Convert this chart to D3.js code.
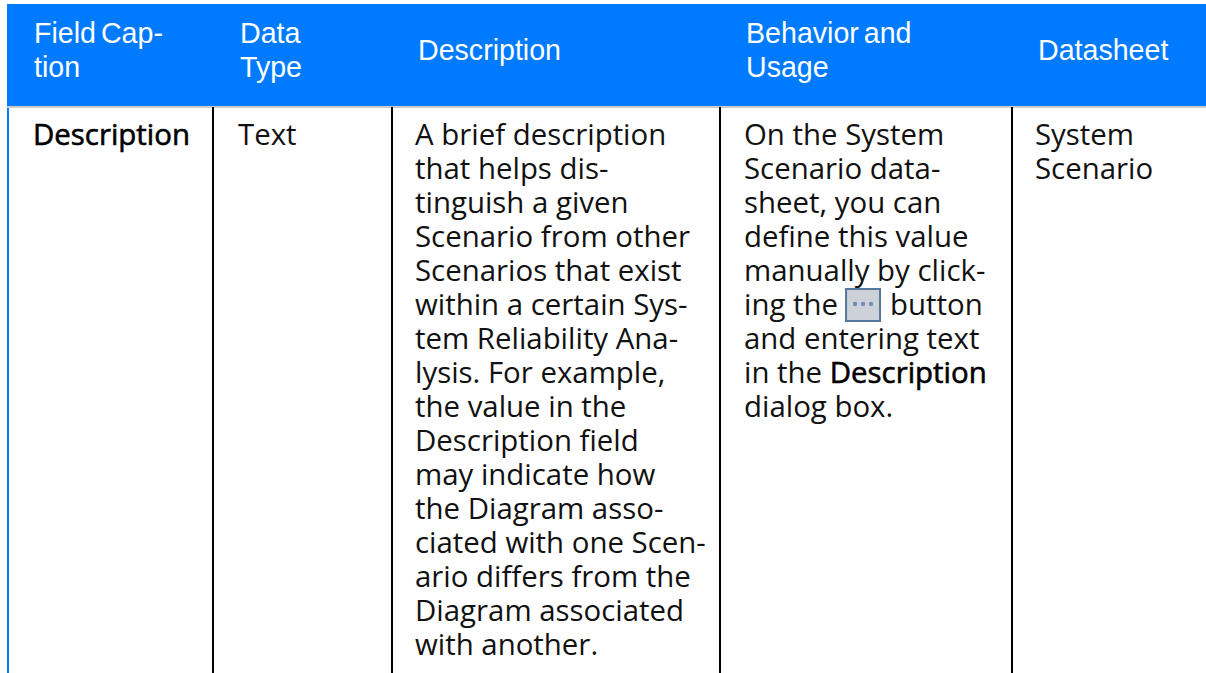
<!DOCTYPE html>
<html>
<head>
<meta charset="utf-8">
<script src="https://cdnjs.cloudflare.com/ajax/libs/d3/7.8.5/d3.min.js"></script>
<style>
  html, body { margin: 0; padding: 0; background: #fff; overflow: hidden; }
  .head { font-family: "Liberation Sans", Arial, sans-serif; font-size: 28.6px; word-spacing: -3px; fill: #fff; }
  .cell { font-family: "Open Sans", sans-serif; font-size: 29.4px; fill: #111; }
  .strong { stroke: #000; stroke-width: 0.6px; fill: #000; }
</style>
</head>
<body>
<svg id="vis" width="1206" height="673"></svg>
<script>
const headers = [
  ['Field Cap-', 'tion'],
  ['Data', 'Type'],
  ['Description'],
  ['Behavior and', 'Usage'],
  ['Datasheet']
]

const fieldCaption = ['Description']
const dataType = ['Text']
const description = [
  'A brief description',
  'that helps dis-',
  'tinguish a given',
  'Scenario from other',
  'Scenarios that exist',
  'within a certain Sys-',
  'tem Reliability Ana-',
  'lysis. For example,',
  'the value in the',
  'Description field',
  'may indicate how',
  'the Diagram asso-',
  'ciated with one Scen-',
  'ario differs from the',
  'Diagram associated',
  'with another.'
]
const behavior = [
  'On the System',
  'Scenario data-',
  'sheet, you can',
  'define this value',
  'manually by click-',
  'ing the',
  'and entering text',
  'in the',
  'dialog box.'
]
const datasheet = ['System', 'Scenario']

const svg = d3.select('#vis')

const colLines = [213, 392, 720, 1012]
const headX = [34, 240, 418, 746, 1038]
const cellX = [33, 238, 415, 744, 1035]

// header band
svg.append('rect').attr('x', 7).attr('y', 4).attr('width', 1199).attr('height', 102).attr('fill', '#007bff')
svg.append('rect').attr('x', 7).attr('y', 106).attr('width', 1199).attr('height', 2).attr('fill', '#cccccc')
svg.append('rect').attr('x', 7).attr('y', 108).attr('width', 2).attr('height', 565).attr('fill', '#007bff')

svg.selectAll('.col')
  .data(colLines)
.enter().append('line')
  .attr('class', 'col')
  .attr('x1', d => d).attr('x2', d => d)
  .attr('y1', 107).attr('y2', 673)
  .attr('stroke', '#000').attr('stroke-width', 2)

const lineY = d3.scaleLinear().domain([0, 1]).range([145, 179])

headers.forEach((lines, i) => {
  const top = lines.length == 2 ? 43 : 60
  svg.selectAll('.h' + i)
    .data(lines)
  .enter().append('text')
    .attr('class', 'head h' + i)
    .attr('x', headX[i])
    .attr('y', (d, j) => top + j * 34)
    .text(String)
})

const columns = [fieldCaption, dataType, description, behavior, datasheet]

columns.forEach((lines, i) => {
  svg.selectAll('.c' + i)
    .data(lines)
  .enter().append('text')
    .attr('class', 'cell c' + i)
    .attr('x', cellX[i])
    .attr('y', (d, j) => lineY(j))
    .text(String)
})

svg.select('.c0').classed('strong', true)

// inline bold word and the button glyph in the behaviour column
const cells = svg.selectAll('.c3')
const inLine = cells.filter(d => d == 'in the')
inLine.append('tspan').attr('class', 'strong').text(' Description')

const ingLine = cells.filter(d => d == 'ing the')
const ingEnd = cellX[3] + ingLine.node().getComputedTextLength()
const ingBase = +ingLine.attr('y')

const btn = svg.append('g').attr('transform', 'translate(' + (ingEnd + 7) + ',' + (ingBase - 27) + ')')
btn.append('rect')
  .attr('x', 1).attr('y', 1).attr('width', 34).attr('height', 32)
  .attr('fill', '#ccd2d8').attr('stroke', '#55779c').attr('stroke-width', 2)
btn.selectAll('circle')
  .data([10, 18, 26])
.enter().append('circle')
  .attr('cx', d => d).attr('cy', 16).attr('r', 2.2).attr('fill', '#6f8fb5')

svg.append('text')
  .attr('class', 'cell')
  .attr('x', ingEnd + 52)
  .attr('y', ingBase)
  .text('button')
</script>
</body>
</html>
